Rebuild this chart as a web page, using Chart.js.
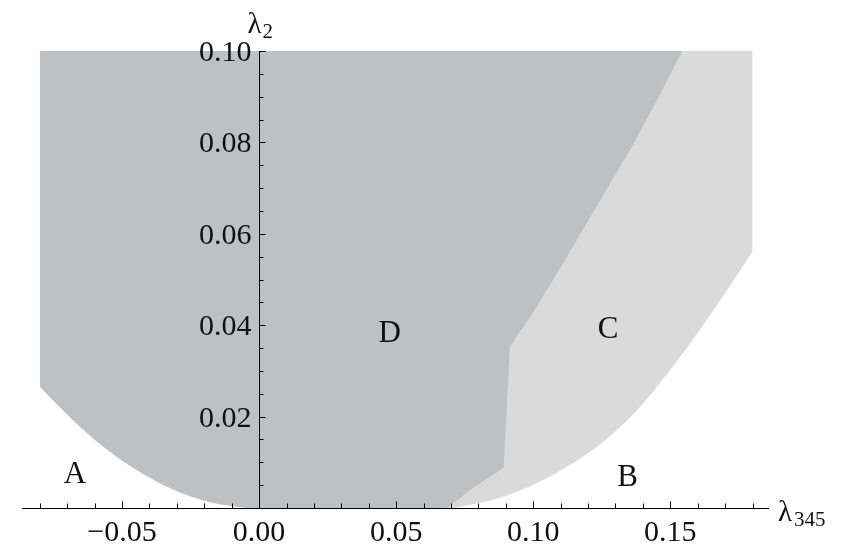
<!DOCTYPE html>
<html>
<head>
<meta charset="utf-8">
<script src="https://cdn.jsdelivr.net/npm/chart.js@4/dist/chart.umd.min.js"></script>
<style>
  html, body { margin: 0; padding: 0; background: #fff; }
  #wrap { width: 855px; height: 559px; position: relative; }
</style>
</head>
<body>
<div id="wrap"><canvas id="chart"></canvas></div>
<script>
// lower edge of the whole shaded region (lambda345, lambda2)
var outerX = [-0.08, -0.0713, -0.0652, -0.0591, -0.0531, -0.047, -0.0409, -0.0348, -0.0287, -0.0226, -0.0166, -0.0105, -0.0056, 0.0,
              0.07, 0.0771, 0.0893, 0.1015, 0.1136, 0.1258, 0.138, 0.1501, 0.1623, 0.1745, 0.18];
var outerY = [0.0266, 0.0212, 0.0177, 0.0145, 0.0117, 0.0092, 0.0070, 0.0050, 0.0034, 0.0021, 0.0011, 0.0005, 0.00013, 0.0,
              0.0, 0.0007, 0.0025, 0.0055, 0.0095, 0.0146, 0.0215, 0.0303, 0.0403, 0.0511, 0.0561];

// region D: curved left part, then the kinked right edge
var darkLeftX = [-0.08, -0.0713, -0.0652, -0.0591, -0.0531, -0.047, -0.0409, -0.0348, -0.0287, -0.0226, -0.0166, -0.0105, -0.0056, 0.0, 0.0686];
var darkLeftY = [0.0266, 0.0212, 0.0177, 0.0145, 0.0117, 0.0092, 0.0070, 0.0050, 0.0034, 0.0021, 0.0011, 0.0005, 0.00013, 0.0, 0.0];
var darkRightX = [0.0, 0.0686, 0.0771, 0.0892, 0.0915, 0.1002, 0.1124, 0.1246, 0.1367, 0.1465, 0.1544];
var darkRightY = [0.0, 0.0, 0.004, 0.0088, 0.0354, 0.0430, 0.0551, 0.0675, 0.0798, 0.0908, 0.1];

var xTickValues = [-0.05, 0.0, 0.05, 0.10, 0.15];
var xTickLabels = ['\u22120.05', '0.00', '0.05', '0.10', '0.15'];
var yTickValues = [0.02, 0.04, 0.06, 0.08, 0.10];
var yTickLabels = ['0.02', '0.04', '0.06', '0.08', '0.10'];

var regionNames = ['A', 'B', 'C', 'D'];
var regionX = [-0.0672, 0.1344, 0.1273, 0.0476];
var regionY = [0.0072, 0.0065, 0.039, 0.0381];

function toPoints(xs, ys) {
    return xs.map(function (v, i) { return { x: v, y: ys[i] }; });
}

var SERIF = '"Liberation Serif", "Times New Roman", serif';
var DARK = '#bfc0c2';
var LIGHT = '#dadada';

// draws Mathematica-style axes crossing at the origin, plus region letters
var axesPlugin = {
    id: 'mmaAxes',
    afterDatasetsDraw: function (chart) {
        var ctx = chart.ctx;
        var xs = chart.scales.x, ys = chart.scales.y;
        var x0 = Math.round(xs.getPixelForValue(0)) + 0.5;
        var y0 = Math.round(ys.getPixelForValue(0)) + 0.5;
        var yTop = ys.getPixelForValue(0.1);
        var i, p;

        ctx.save();
        ctx.strokeStyle = '#000';
        ctx.lineWidth = 1;

        // x axis
        ctx.beginPath();
        ctx.moveTo(xs.left, y0);
        ctx.lineTo(xs.right, y0);
        for (i = -8; i <= 18; i++) {
            p = Math.round(xs.getPixelForValue(i / 100)) + 0.5;
            var len = (i % 5 === 0) ? 7 : 5;
            ctx.moveTo(p, y0);
            ctx.lineTo(p, y0 - len);
        }
        ctx.stroke();

        // y axis
        ctx.beginPath();
        ctx.moveTo(x0, y0);
        ctx.lineTo(x0, yTop);
        for (i = 1; i <= 20; i++) {
            p = Math.round(ys.getPixelForValue(i * 0.005)) + 0.5;
            var ylen = (i % 4 === 0) ? 6 : 4;
            ctx.moveTo(x0, p);
            ctx.lineTo(x0 + ylen, p);
        }
        ctx.stroke();

        ctx.fillStyle = '#111';
        ctx.font = '30px ' + SERIF;
        ctx.textBaseline = 'alphabetic';
        ctx.textAlign = 'center';
        for (i = 0; i < xTickValues.length; i++) {
            ctx.fillText(xTickLabels[i], xs.getPixelForValue(xTickValues[i]), y0 + 32);
        }
        ctx.textAlign = 'right';
        for (i = 0; i < yTickValues.length; i++) {
            ctx.fillText(yTickLabels[i], x0 - 8, ys.getPixelForValue(yTickValues[i]) + 10);
        }

        // axis names
        ctx.textAlign = 'left';
        ctx.font = '29px ' + SERIF;
        ctx.fillText('\u03bb', x0 - 12, yTop - 18);
        ctx.font = '21px ' + SERIF;
        ctx.fillText('2', x0 + 3, yTop - 13);
        ctx.font = '29px ' + SERIF;
        ctx.fillText('\u03bb', xs.right + 9, y0 + 12);
        ctx.font = '21px ' + SERIF;
        ctx.fillText('345', xs.right + 25, y0 + 17);

        // region letters
        ctx.font = '31px ' + SERIF;
        ctx.textAlign = 'center';
        ctx.textBaseline = 'middle';
        for (i = 0; i < regionNames.length; i++) {
            ctx.fillText(regionNames[i], xs.getPixelForValue(regionX[i]), ys.getPixelForValue(regionY[i]));
        }
        ctx.restore();
    }
};

function area(label, pts, color, smooth) {
    return {
        label: label,
        data: pts,
        fill: 'end',
        backgroundColor: color,
        borderColor: 'rgba(0,0,0,0)',
        borderWidth: 0,
        pointRadius: 0,
        tension: 0,
        cubicInterpolationMode: smooth ? 'monotone' : 'default'
    };
}

// lower dataset index is painted on top, so region D goes first
new Chart(document.getElementById('chart'), {
    type: 'line',
    data: {
        datasets: [
            area('D right', toPoints(darkRightX, darkRightY), DARK, false),
            area('D left', toPoints(darkLeftX, darkLeftY), DARK, true),
            area('C', toPoints(outerX, outerY), LIGHT, true)
        ]
    },
    options: {
        responsive: true,
        maintainAspectRatio: false,
        animation: false,
        events: [],
        layout: { padding: { left: 22, right: 86, top: 51, bottom: 51 } },
        scales: {
            x: { type: 'linear', min: -0.0865, max: 0.186, display: false },
            y: { type: 'linear', min: 0, max: 0.1, display: false }
        },
        plugins: {
            legend: { display: false },
            tooltip: { enabled: false }
        }
    },
    plugins: [axesPlugin]
});
</script>
</body>
</html>
